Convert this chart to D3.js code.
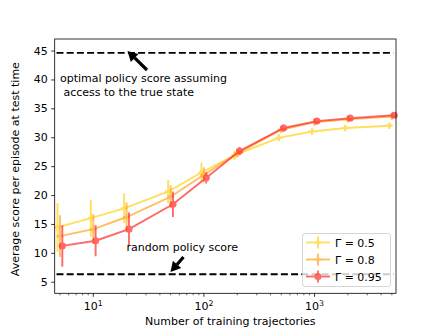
<!DOCTYPE html>
<html><head><meta charset="utf-8">
<script src="https://cdn.jsdelivr.net/npm/d3@7"></script>
<style>body{margin:0;background:#fff}svg{font-family:"DejaVu Sans",sans-serif}</style>
</head><body><svg id="c" width="440" height="330"></svg>
<script>
const trajectories = [5, 10, 20, 50, 100, 200, 500, 1000, 2000, 5000];
const seriesNames = ["Γ = 0.5", "Γ = 0.8", "Γ = 0.95"];
const gamma05 = [14.4, 16.0, 17.7, 20.6, 23.9, 26.9, 29.9, 31.0, 31.6, 32.0];
const gamma08 = [12.9, 14.1, 16.2, 19.7, 23.5, 27.2, 31.3, 32.6, 33.1, 33.6];
const gamma095 = [11.2, 12.1, 14.1, 18.4, 23.0, 27.6, 31.6, 32.8, 33.3, 33.8];
const err05 = [4.2, 3.2, 2.6, 2.0, 1.7, 0.8, 0.6, 0.5, 0.4, 0.4];
const err08 = [3.6, 2.6, 2.5, 2.0, 1.3, 0.7, 0.5, 0.5, 0.4, 0.4];
const err095 = [3.6, 2.7, 2.9, 2.2, 1.0, 0.7, 0.6, 0.5, 0.4, 0.4];
const xOffsets = [0.95, 1.0, 1.05];
const optimalScore = 44.6;
const randomScore = 6.3;
const yTicks = [5, 10, 15, 20, 25, 30, 35, 40, 45];
const xTicks = [10, 100, 1000];
const xTickExp = ["1", "2", "3"];
const colors = ["#ffd21a", "#ffa51f", "#ff2a2a"];

const FS = 11;
const svg = d3.select("#c");
const L = 54.7, R = 396, T = 39, B = 293.3;
const x = d3.scaleLog().domain([4.48, 5450]).range([L, R]);
const y = d3.scaleLinear().domain([3, 47]).range([B, T]);

// dashed reference lines
const hl = [optimalScore, randomScore];
svg.selectAll(".hl").data(hl).enter().append("line")
  .attr("x1", x(4.65)).attr("x2", x(5150))
  .attr("y1", d => y(d)).attr("y2", d => y(d))
  .attr("stroke", "#000").attr("stroke-width", 1.9).attr("stroke-dasharray", "7,3.2");

const all = [gamma05, gamma08, gamma095];
const errs = [err05, err08, err095];
const line = d3.line().x(d => x(d[0])).y(d => y(d[1]));

all.forEach((vals, si) => {
  const pts = vals.map((v, i) => [trajectories[i] * xOffsets[si], v, errs[si][i]]);
  const g = svg.append("g").attr("opacity", 0.7);
  g.append("path").attr("d", line(pts)).attr("fill", "none")
    .attr("stroke", colors[si]).attr("stroke-width", 1.9);
  g.selectAll(".eb").data(pts).enter().append("line")
    .attr("x1", d => x(d[0])).attr("x2", d => x(d[0]))
    .attr("y1", d => y(d[1] - d[2])).attr("y2", d => y(d[1] + d[2]))
    .attr("stroke", colors[si]).attr("stroke-width", 1.9);
  const sym = si === 2 ? d3.symbol(d3.symbolCircle, 40) : d3.symbol(d3.symbolCross, 24);
  g.selectAll(".mk").data(pts).enter().append("path")
    .attr("d", sym).attr("transform", d => `translate(${x(d[0])},${y(d[1])})`)
    .attr("fill", colors[si]);
});

// axes
const yAxis = d3.axisLeft(y).tickValues(yTicks).tickSize(3.5).tickPadding(3.5);
const ga = svg.append("g").attr("transform", `translate(${L},0)`).call(yAxis);
ga.select(".domain").remove();
ga.selectAll("text").attr("font-size", FS).attr("fill", "#000").attr("font-family", "DejaVu Sans");
ga.selectAll("line").attr("stroke-width", 0.8);

const minor = [];
[1, 10, 100, 1000].forEach(b => { for (let k = 2; k <= 9; k++) { const v = b * k; if (v >= 4.48 && v <= 5450) minor.push(v); } });
const gx = svg.append("g").attr("transform", `translate(0,${B})`);
gx.selectAll(".mn").data(minor).enter().append("line")
  .attr("x1", d => x(d)).attr("x2", d => x(d)).attr("y1", 0).attr("y2", 2)
  .attr("stroke", "#000").attr("stroke-width", 0.6);
gx.selectAll(".mj").data(xTicks).enter().append("line")
  .attr("x1", d => x(d)).attr("x2", d => x(d)).attr("y1", 0).attr("y2", 3.5)
  .attr("stroke", "#000").attr("stroke-width", 0.8);
const xt = gx.selectAll(".xt").data(xTicks).enter().append("text")
  .attr("x", d => x(d)).attr("y", 17).attr("text-anchor", "middle").attr("font-size", FS);
xt.append("tspan").text("10");
xt.append("tspan").attr("dy", -4.5).attr("font-size", 7.8).text((d, i) => xTickExp[i]);

// frame
svg.append("rect").attr("x", L).attr("y", T).attr("width", R - L).attr("height", B - T)
  .attr("fill", "none").attr("stroke", "#000").attr("stroke-width", 0.8);

// labels
svg.append("text").attr("x", (L + R) / 2 + 5).attr("y", 325).attr("text-anchor", "middle")
  .attr("font-size", FS).text("Number of training trajectories");
svg.append("text").attr("transform", `translate(19,${(T + B) / 2 + 3}) rotate(-90)`)
  .attr("text-anchor", "middle").attr("font-size", FS).text("Average score per episode at test time");

// annotations
function arrow(x1, y1, x2, y2) {
  const ang = Math.atan2(y2 - y1, x2 - x1);
  const hl = 10, hw = 5.5;
  const bx = x2 - hl * Math.cos(ang), by = y2 - hl * Math.sin(ang);
  svg.append("line").attr("x1", x1).attr("y1", y1).attr("x2", bx).attr("y2", by)
    .attr("stroke", "#000").attr("stroke-width", 3.2);
  const px = -Math.sin(ang) * hw, py = Math.cos(ang) * hw;
  svg.append("path").attr("d", `M${x2},${y2}L${bx + px},${by + py}L${bx - px},${by - py}Z`).attr("fill", "#000");
}
arrow(147, 70, 127.5, 51);
arrow(183.5, 257, 170.5, 272);
const ann = svg.append("text").attr("font-size", FS);
ann.append("tspan").attr("x", 60).attr("y", 82).text("optimal policy score assuming");
ann.append("tspan").attr("x", 60).attr("y", 96).text(" access to the true state");
svg.append("text").attr("x", 126.5).attr("y", 251).attr("font-size", FS).text("random policy score");

// legend
const lg = svg.append("g");
lg.append("rect").attr("x", 302.5).attr("y", 233.5).attr("width", 88).attr("height", 53).attr("rx", 2.5)
  .attr("fill", "#fff").attr("fill-opacity", 0.8).attr("stroke", "#ccc").attr("stroke-width", 0.8);
seriesNames.forEach((n, i) => {
  const cy = 242.5 + i * 17;
  const g = lg.append("g").attr("opacity", 0.7);
  g.append("line").attr("x1", 306).attr("x2", 330).attr("y1", cy).attr("y2", cy).attr("stroke", colors[i]).attr("stroke-width", 1.9);
  g.append("line").attr("x1", 318).attr("x2", 318).attr("y1", cy - 6).attr("y2", cy + 6).attr("stroke", colors[i]).attr("stroke-width", 1.9);
  const sym = i === 2 ? d3.symbol(d3.symbolCircle, 40) : d3.symbol(d3.symbolCross, 24);
  g.append("path").attr("d", sym).attr("transform", `translate(318,${cy})`).attr("fill", colors[i]);
  lg.append("text").attr("x", 335).attr("y", cy + 4).attr("font-size", FS).text(n);
});
</script></body></html>
